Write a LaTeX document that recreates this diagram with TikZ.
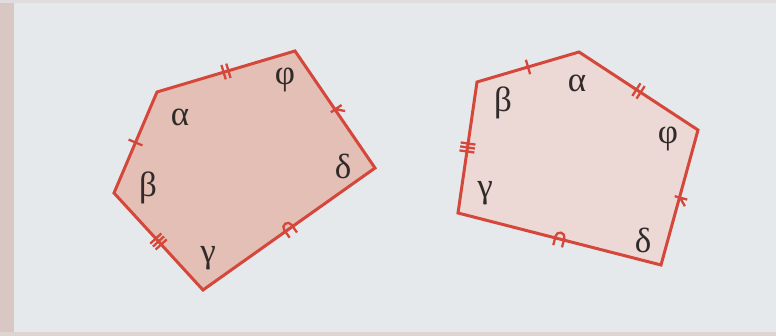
\documentclass[tikz,border=0pt]{standalone}
\usepackage{fontspec}
\setmainfont{Liberation Serif}
\usetikzlibrary{calc}
\definecolor{bg}{HTML}{E5E9EC}
\definecolor{strip}{HTML}{D9C7C3}
\definecolor{edge}{HTML}{D4473A}
\definecolor{fillL}{HTML}{E4BFB5}
\definecolor{fillR}{HTML}{ECD8D4}
\definecolor{ink}{HTML}{302B2A}
\tikzset{
  poly/.style={draw=edge, line width=3pt, line join=miter},
  mk/.style={draw=edge, line width=2.3pt},
  lbl/.style={text=ink, font=\fontsize{35}{40}\selectfont, inner sep=0pt},
  tickone/.pic={\draw[mk] (0,-7.5)--(0,7.5);},
  ticktwo/.pic={\draw[mk] (-2.5,-7.5)--(-2.5,7.5) (2.5,-7.5)--(2.5,7.5);},
  tickthree/.pic={\draw[mk] (-4,-7.5)--(-4,7.5) (0,-7.5)--(0,7.5) (4,-7.5)--(4,7.5);},
  chev/.pic={\draw[mk] (0,-5)--(0,8) (-0.5,0)--(7,7.5);},
  arcmk/.pic={\draw[mk] (-4.5,7.5)--(-4.5,-2) arc[start angle=180,end angle=360,radius=4.5] -- (4.5,7.5);},
}
\begin{document}
\begin{tikzpicture}[x=1pt,y=1pt]
\fill[bg] (0,0) rectangle (776,336);
\useasboundingbox (0,0) rectangle (776,336);
\fill[strip] (0,0) rectangle (14,336);
\fill[strip!60!bg] (0,0) rectangle (776,4);
\fill[strip!35!bg] (0,333) rectangle (776,336);

% left polygon
\coordinate (L1) at (157,244);
\coordinate (L2) at (295,285);
\coordinate (L3) at (375,168);
\coordinate (L4) at (203,46);
\coordinate (L5) at (114,143);
\filldraw[poly, fill=fillL] (L1) -- (L2) -- (L3) -- (L4) -- (L5) -- cycle;

\path let \p1=($(L2)-(L1)$), \n1={atan2(\y1,\x1)} in ($(L1)!0.5!(L2)$) pic[rotate=\n1]{ticktwo};
\path let \p1=($(L3)-(L2)$), \n1={atan2(\y1,\x1)} in ($(L2)!0.5!(L3)$) pic[rotate=\n1]{chev};
\path let \p1=($(L4)-(L3)$), \n1={atan2(\y1,\x1)} in ($(L3)!0.5!(L4)$) pic[rotate=\n1]{arcmk};
\path let \p1=($(L5)-(L4)$), \n1={atan2(\y1,\x1)} in ($(L4)!0.5!(L5)$) pic[rotate=\n1]{tickthree};
\path let \p1=($(L1)-(L5)$), \n1={atan2(\y1,\x1)} in ($(L5)!0.5!(L1)$) pic[rotate=\n1]{tickone};

\node[lbl] (la) at (180,219) {α};
\node[lbl] (lf) at (285,256) {φ};
\node[lbl] (ld) at (343,170) {δ};
\node[lbl] (lb) at (148,148) {β};
\node[lbl] (lg) at (208,78) {γ};

% right polygon
\coordinate (R1) at (477,254);
\coordinate (R2) at (579,284);
\coordinate (R3) at (698,206);
\coordinate (R4) at (661,71);
\coordinate (R5) at (458,123);
\filldraw[poly, fill=fillR] (R1) -- (R2) -- (R3) -- (R4) -- (R5) -- cycle;

\path let \p1=($(R2)-(R1)$), \n1={atan2(\y1,\x1)} in ($(R1)!0.5!(R2)$) pic[rotate=\n1]{tickone};
\path let \p1=($(R3)-(R2)$), \n1={atan2(\y1,\x1)} in ($(R2)!0.5!(R3)$) pic[rotate=\n1]{ticktwo};
\path let \p1=($(R4)-(R3)$), \n1={atan2(\y1,\x1)} in ($(R3)!0.5!(R4)$) pic[rotate=\n1]{chev};
\path let \p1=($(R5)-(R4)$), \n1={atan2(\y1,\x1)} in ($(R4)!0.5!(R5)$) pic[rotate=\n1]{arcmk};
\path let \p1=($(R1)-(R5)$), \n1={atan2(\y1,\x1)} in ($(R5)!0.5!(R1)$) pic[rotate=\n1]{tickthree};

\node[lbl] (rb) at (503,233) {β};
\node[lbl] (ra) at (577,253) {α};
\node[lbl] (rf) at (668,197) {φ};
\node[lbl] (rg) at (485,143) {γ};
\node[lbl] (rd) at (643,96) {δ};
\end{tikzpicture}
\end{document}
